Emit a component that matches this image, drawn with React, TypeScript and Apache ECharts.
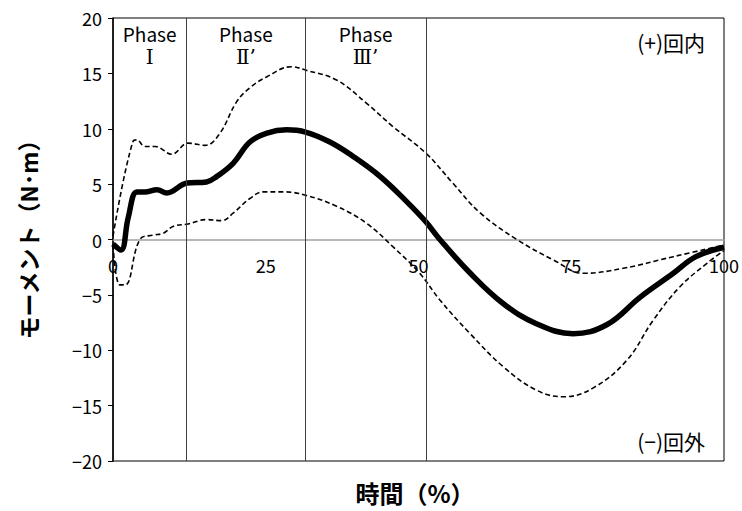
import React, { useEffect, useRef } from "react";
import * as echarts from "echarts";

const FONT = "Noto Sans CJK JP";
const SERIF = "DejaVu Serif, Liberation Serif, serif";

const meanX = [0, 1.3, 2.5, 3.9, 5.2, 7.2, 8.8, 12.1, 15.3, 17, 19.7, 22.4, 25.2, 28.4, 31.5, 35.5, 39.3, 43.7, 48.1, 51.2, 53.5, 58.4, 63.9, 69.3, 75.3, 80.8, 86.3, 91.7, 95.4, 100];
const meanY = [-0.4, -0.95, 2.0, 4.3, 4.3, 4.5, 4.2, 5.1, 5.2, 5.7, 6.9, 8.8, 9.6, 9.9, 9.7, 8.8, 7.5, 5.7, 3.4, 1.6, 0, -3.0, -5.8, -7.6, -8.5, -7.7, -5.2, -3.05, -1.55, -0.7];

const upperX = [0, 3.3, 3.9, 5.2, 6.9, 9.6, 12.3, 15.1, 17.5, 20.2, 22.4, 25.2, 29.2, 31.5, 36.6, 41.5, 45.8, 51.2, 55.6, 60.1, 66.1, 72.1, 77, 83.5, 91.7, 100];
const upperY = [0.3, 8.9, 9.0, 8.4, 8.4, 7.7, 8.7, 8.5, 9.6, 12.4, 13.7, 14.7, 15.6, 15.3, 14.4, 12.3, 10.2, 7.8, 5.1, 2.4, 0, -1.85, -3.05, -2.6, -1.55, -0.5];

const lowerX = [0, 1.1, 2.0, 4.4, 6.6, 8.2, 9.9, 12.3, 15.3, 17.8, 19.7, 22.4, 24.6, 27.9, 31.5, 36.6, 41.5, 45.8, 50.2, 53.5, 58.4, 63.9, 69.3, 73.7, 78.6, 84.1, 88.4, 92.8, 97.2, 100];
const lowerY = [-0.5, -4.1, -4.1, 0, 0.4, 0.56, 1.2, 1.4, 1.8, 1.7, 2.4, 3.7, 4.3, 4.3, 4.0, 3.0, 1.46, -0.65, -3.05, -5.46, -8.47, -11.5, -13.6, -14.2, -13.4, -10.9, -7.3, -4.26, -2.15, -1.0];

const xTicks = [0, 25, 50, 75, 100];

const phaseBounds = [0, 12, 31.5, 51.2];
const phaseNames = ["Ⅰ", "Ⅱ’", "Ⅲ’"];

const xTitle = "時間（%）";
const yTitle = "モーメント（N･m）";
const topNote = "(+)回内";
const bottomNote = "(−)回外";

const zip = (xs: number[], ys: number[]) => xs.map((x, i) => [x, ys[i]]);

export default function App() {
  const ref = useRef<HTMLDivElement>(null);
  useEffect(() => {
    const chart = echarts.init(ref.current!, null, { renderer: "svg" });
    chart.setOption({
      animation: false,
      backgroundColor: "#fff",
      textStyle: { fontFamily: FONT },
      grid: {
        left: 113, right: 18, top: 18, bottom: 50,
        show: true, borderColor: "#000", borderWidth: 1, backgroundColor: "transparent",
      },
      xAxis: {
        type: "value", min: 0, max: 100, interval: 25,
        axisLine: { show: true, onZero: true, lineStyle: { color: "#a0a0a0", width: 1.5 } },
        axisTick: { show: false },
        splitLine: { show: false },
        axisLabel: { show: false },
      },
      yAxis: {
        type: "value", min: -20, max: 20, interval: 5,
        axisLine: { show: true, onZero: false, lineStyle: { color: "#000", width: 1.5 } },
        axisTick: { show: true, inside: false, length: 5, lineStyle: { color: "#000" } },
        splitLine: { show: false },
        axisLabel: {
          color: "#000", fontSize: 18, fontFamily: FONT, margin: 11,
          formatter: (v: number) => (v < 0 ? "−" + Math.abs(v) : String(v)),
        },
      },
      graphic: [
        {
          type: "text", x: 28, y: 234, rotation: Math.PI / 2,
          style: { text: yTitle, font: `bold 23px "${FONT}"`, fill: "#000", align: "center", verticalAlign: "middle" },
        },
        {
          type: "text", x: 415, y: 492,
          style: { text: xTitle, font: `bold 24px "${FONT}"`, fill: "#000", align: "center", verticalAlign: "middle" },
        },
        {
          type: "text", x: 705, y: 42,
          style: { text: topNote, font: `21px "${FONT}"`, fill: "#000", align: "right", verticalAlign: "middle" },
        },
        {
          type: "text", x: 705, y: 441,
          style: { text: bottomNote, font: `21px "${FONT}"`, fill: "#000", align: "right", verticalAlign: "middle" },
        },
      ],
      series: [
        {
          type: "line", name: "upper", data: zip(upperX, upperY), smooth: 0.4, symbol: "none",
          lineStyle: { color: "#000", width: 1.6, type: [5, 3] },
          z: 3,
        },
        {
          type: "line", name: "lower", data: zip(lowerX, lowerY), smooth: 0.4, symbol: "none",
          lineStyle: { color: "#000", width: 1.6, type: [5, 3] },
          z: 3,
        },
        {
          type: "line", name: "mean", data: zip(meanX, meanY), smooth: 0.4, symbol: "none",
          lineStyle: { color: "#000", width: 5.5 },
          z: 4,
          markLine: {
            silent: true, symbol: ["none", "none"], label: { show: false },
            lineStyle: { color: "#404040", width: 1, type: "solid" },
            data: phaseBounds.slice(1).map((b) => ({ xAxis: b })),
          },
          markArea: {
            silent: true,
            itemStyle: { color: "transparent" },
            label: {
              show: true, position: "insideTop", distance: 4, color: "#000",
              align: "center",
              formatter: (p: any) => {
                const parts = String(p.name).split("\n");
                return "{p|" + parts[0] + "}\n{n|" + parts[1] + "}";
              },
              rich: {
                p: { fontFamily: FONT, fontSize: 19, lineHeight: 23, color: "#000", align: "center" },
                n: { fontFamily: SERIF, fontSize: 20, lineHeight: 24, color: "#000", align: "center" },
              },
            },
            data: phaseNames.map((n, i) => [
              { xAxis: phaseBounds[i], name: "Phase\n" + n },
              { xAxis: phaseBounds[i + 1] },
            ]),
          },
        },
        {
          type: "scatter", name: "xTickLabels", data: xTicks.map((t) => [t, 0]),
          symbol: "circle", symbolSize: 0, silent: true, z: 6,
          itemStyle: { color: "#000", opacity: 1 },
          label: {
            show: true, position: "bottom", distance: 16, color: "#000", opacity: 1,
            fontFamily: FONT, fontSize: 18, fontWeight: "normal",
            textBorderWidth: 0,
            formatter: (p: any) => String(p.value[0]),
          },
        },
      ],
    });
    return () => chart.dispose();
  }, []);
  return (
    <div
      ref={ref}
      style={{ position: "absolute", left: 0, top: 0, width: 742, height: 511, background: "#fff" }}
    />
  );
}
